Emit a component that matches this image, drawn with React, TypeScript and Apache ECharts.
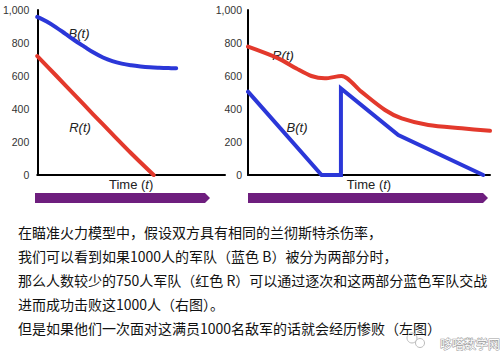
import React, { useEffect, useRef } from "react";
import * as echarts from "echarts";

const yTicks = [0, 200, 400, 600, 800, 1000];

// Left panel: 1000 blue army engaged at once
const leftBlue: [number, number][] = [
  [0, 958], [0.5, 930], [1, 895], [1.5, 855], [2, 815], [2.5, 778], [3, 742],
  [3.5, 712], [4, 690], [4.5, 675], [5, 665], [5.5, 658], [6, 653], [6.5, 650],
  [7, 648], [7.4, 647],
];
const leftRed: [number, number][] = [
  [0, 721], [1, 603], [2, 484], [3, 365], [4, 248], [5, 132], [6.2, 0],
];

// Right panel: blue army split into two parts
const rightRed: [number, number][] = [
  [0, 778], [1.25, 707], [2.0, 645], [2.62, 600], [3.17, 586], [3.86, 600],
  [4.68, 505], [5.66, 394], [6.35, 343], [7.45, 303], [8.83, 283], [10, 268],
];
const rightBlue: [number, number][] = [
  [0, 505], [3.04, 0], [3.84, 0], [3.84, 525], [6.21, 242], [9.72, 0],
];

const textLines = [
  "在瞄准火力模型中，假设双方具有相同的兰彻斯特杀伤率，",
  "我们可以看到如果1000人的军队（蓝色 B）被分为两部分时，",
  "那么人数较少的750人军队（红色 R）可以通过逐次和这两部分蓝色军队交战",
  "进而成功击败这1000人（右图）。",
  "但是如果他们一次面对这满员1000名敌军的话就会经历惨败（左图）",
];

const BLUE = "#2b37d8";
const RED = "#e3392c";
const PURPLE = "#6e1e7e";

export default function App() {
  const ref = useRef<HTMLDivElement>(null);
  useEffect(() => {
    if (!ref.current) return;
    const chart = echarts.init(ref.current, undefined, { renderer: "svg" });
    const xAxisBase = (gridIndex: number) => ({
      type: "value" as const,
      gridIndex,
      min: 0,
      max: 10,
      axisLine: { show: true, lineStyle: { color: "#000", width: 2 } },
      axisTick: { show: false },
      axisLabel: { show: false },
      splitLine: { show: false },
      name: "{a|Time (}{b|t}{a|)}",
      nameLocation: "middle" as const,
      nameGap: 3,
      nameTextStyle: {
        verticalAlign: "top",
        rich: {
          a: { fontSize: 13, color: "#222", fontFamily: "Liberation Sans" },
          b: { fontSize: 13, color: "#222", fontStyle: "italic", fontFamily: "Liberation Sans" },
        },
      },
    });
    const yAxisBase = (gridIndex: number, margin: number) => ({
      type: "value" as const,
      gridIndex,
      min: yTicks[0],
      max: yTicks[yTicks.length - 1],
      interval: 200,
      axisLine: { show: true, lineStyle: { color: "#000", width: 2 } },
      axisTick: { show: false },
      splitLine: { show: false },
      axisLabel: {
        color: "#333",
        fontSize: 10.5,
        fontFamily: "Liberation Sans",
        margin,
        formatter: (v: number) => v.toLocaleString("en-US"),
      },
    });
    const lineSeries = (data: [number, number][], color: string, idx: number, smooth: number | boolean) => ({
      type: "line" as const,
      xAxisIndex: idx,
      yAxisIndex: idx,
      data,
      symbol: "none",
      smooth,
      lineStyle: { color, width: 4, cap: "round" as const, join: "miter" as const },
    });
    const labelStyle = { fontSize: 13, fontStyle: "italic", fontFamily: "Liberation Sans", fill: "#222" };
    chart.setOption({
      animation: false,
      backgroundColor: "#fff",
      grid: [
        { left: 35, top: 10, width: 190, height: 165 },
        { left: 248, top: 10, width: 242, height: 165 },
      ],
      xAxis: [xAxisBase(0), xAxisBase(1)],
      yAxis: [yAxisBase(0, 8), yAxisBase(1, 6)],
      series: [
        lineSeries(leftBlue, BLUE, 0, 0.4),
        lineSeries(leftRed, RED, 0, 0.3),
        lineSeries(rightRed, RED, 1, 0.3),
        lineSeries(rightBlue, BLUE, 1, false),
      ],
      graphic: [
        { type: "text", x: 79, y: 33, style: { ...labelStyle, text: "B(t)", align: "center", verticalAlign: "middle" } },
        { type: "text", x: 80, y: 127, style: { ...labelStyle, text: "R(t)", align: "center", verticalAlign: "middle" } },
        { type: "text", x: 283, y: 55, style: { ...labelStyle, text: "R(t)", align: "center", verticalAlign: "middle" } },
        { type: "text", x: 297, y: 127, style: { ...labelStyle, text: "B(t)", align: "center", verticalAlign: "middle" } },
        {
          type: "polygon",
          shape: { points: [[35, 193], [205, 193], [210, 198], [205, 203], [35, 203]] },
          style: { fill: PURPLE },
        },
        {
          type: "polygon",
          shape: { points: [[248, 193], [483, 193], [488, 198], [483, 203], [248, 203]] },
          style: { fill: PURPLE },
        },
        ...textLines.map((t, i) => ({
          type: "text",
          x: 18,
          y: 232 + i * 23.9,
          style: {
            text: t,
            fontSize: 14,
            fontFamily: "Noto Sans CJK SC",
            fill: "#111",
            verticalAlign: "middle",
          },
        })),
        { type: "circle", shape: { cx: 412, cy: 338, r: 5 }, style: { fill: "none", stroke: "#bbb", lineWidth: 1 } },
        { type: "circle", shape: { cx: 420, cy: 343, r: 4.5 }, style: { fill: "rgba(255,255,255,0.6)", stroke: "#bbb", lineWidth: 1 } },
        {
          type: "text",
          x: 440,
          y: 343,
          style: {
            text: "哆嗒数学网",
            fontSize: 12,
            fontFamily: "Noto Sans CJK SC",
            fill: "#fff",
            stroke: "#999",
            lineWidth: 1,
            verticalAlign: "middle",
          },
        },
      ],
    });
    return () => chart.dispose();
  }, []);
  return (
    <div
      ref={ref}
      style={{ position: "absolute", left: 0, top: 0, width: 500, height: 360, background: "#fff" }}
    />
  );
}
